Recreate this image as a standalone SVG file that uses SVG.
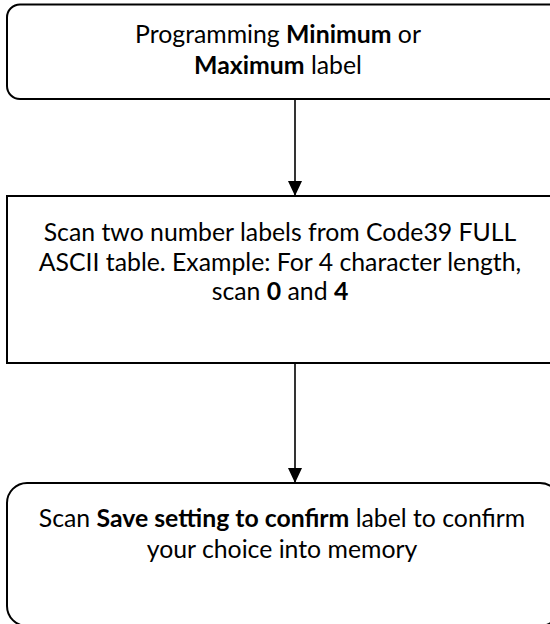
<svg xmlns="http://www.w3.org/2000/svg" width="550" height="624" viewBox="0 0 550 624">
<style>
.box{fill:#fff;stroke:#000;stroke-width:2}
.t{font-family:Lato,"Liberation Sans",sans-serif;font-size:24.8px;fill:#000;text-anchor:middle}
.b{font-weight:bold}
.c{stroke:#000;stroke-width:1.6;fill:none}
</style>
<defs>
<marker id="ah" markerWidth="15" markerHeight="16" refX="15" refY="7.5" orient="auto" markerUnits="userSpaceOnUse" viewBox="0 0 16 15">
<path d="M0,0 L16,7.5 L0,15 Z" fill="#000"/>
</marker>
</defs>
<rect width="550" height="624" fill="#fff"/>
<g id="connectors">
<line class="c" x1="295" y1="99" x2="295" y2="195" marker-end="url(#ah)"/>
<line class="c" x1="295" y1="363" x2="295" y2="482" marker-end="url(#ah)"/>
</g>
<g id="node1">
<rect class="box" x="7" y="4.5" width="555" height="94.5" rx="13"/>
<text class="t" x="278" y="43">Programming <tspan class="b">Minimum</tspan> or</text>
<text class="t" x="278" y="74"><tspan class="b">Maximum</tspan> label</text>
</g>
<g id="node2">
<rect class="box" x="7" y="196" width="560" height="167"/>
<text class="t" x="280" y="241">Scan two number labels from Code39 FULL</text>
<text class="t" x="280" y="271">ASCII table. Example: For 4 character length,</text>
<text class="t" x="280" y="300">scan <tspan class="b">0</tspan> and <tspan class="b">4</tspan></text>
</g>
<g id="node3">
<rect class="box" x="7" y="483" width="553" height="143" rx="20"/>
<text class="t" x="282" y="527">Scan <tspan class="b">Save setting to confirm</tspan> label to confirm</text>
<text class="t" x="282" y="558">your choice into memory</text>
</g>
</svg>
